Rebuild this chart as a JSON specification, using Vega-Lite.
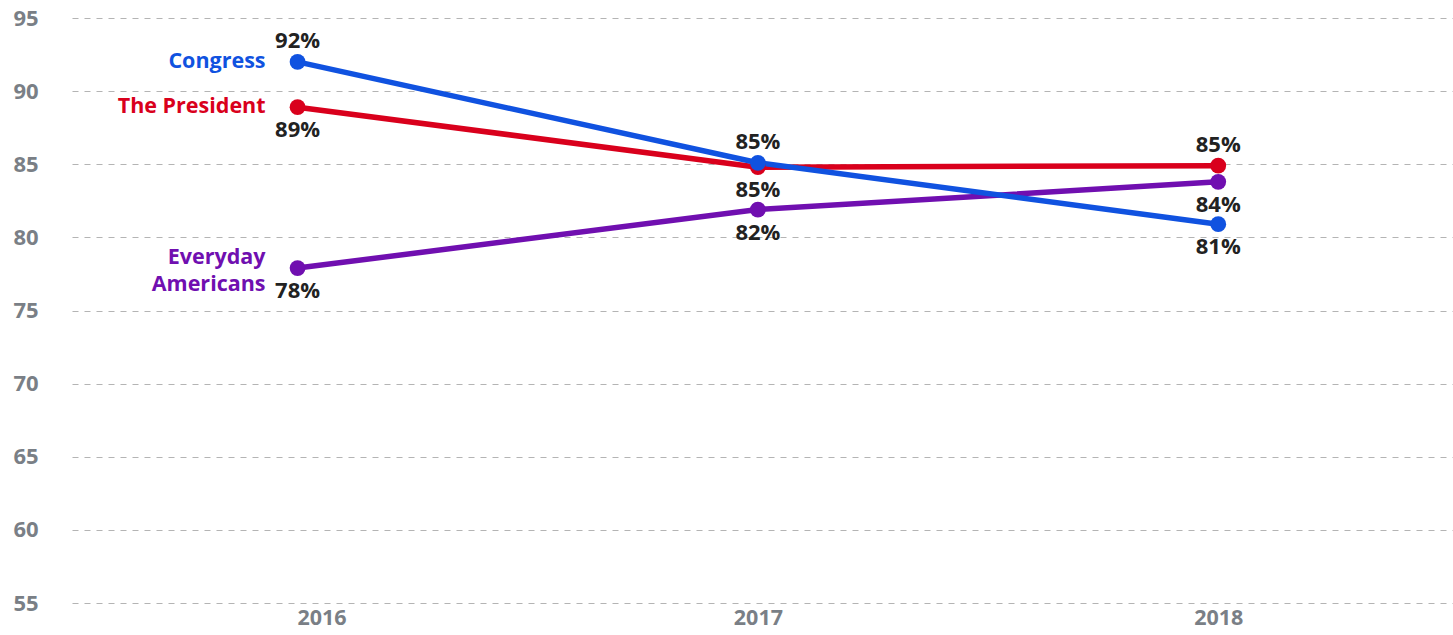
{
  "$schema": "https://vega.github.io/schema/vega-lite/v6.json",
  "width": 1381,
  "height": 585,
  "autosize": {"type": "none"},
  "padding": {"left": 72, "top": 18, "right": 0, "bottom": 32},
  "background": "white",
  "config": {
    "font": "Open Sans",
    "view": {"stroke": null}
  },
  "data": {
    "values": [
      {"series": "Everyday Americans", "year": 2016, "value": 77.9, "label": "78%"},
      {"series": "Everyday Americans", "year": 2017, "value": 81.9, "label": "82%"},
      {"series": "Everyday Americans", "year": 2018, "value": 83.8, "label": "84%"},
      {"series": "The President", "year": 2016, "value": 88.9, "label": "89%"},
      {"series": "The President", "year": 2017, "value": 84.8, "label": "85%"},
      {"series": "The President", "year": 2018, "value": 84.9, "label": "85%"},
      {"series": "Congress", "year": 2016, "value": 92.0, "label": "92%"},
      {"series": "Congress", "year": 2017, "value": 85.1, "label": "85%"},
      {"series": "Congress", "year": 2018, "value": 80.9, "label": "81%"}
    ]
  },
  "encoding": {
    "x": {
      "field": "year",
      "type": "quantitative",
      "scale": {"domain": [2015.51, 2018.51], "nice": false, "zero": false},
      "axis": {
        "title": null,
        "values": [2016, 2017, 2018],
        "format": "d",
        "grid": false,
        "ticks": false,
        "domain": false,
        "labelFont": "Open Sans",
        "labelFontSize": 21.5,
        "labelFontWeight": "bold",
        "labelColor": "#7a7f86",
        "labelPadding": 4,
        "labelOffset": {"condition": {"test": "datum.value === 2016", "value": 24}, "value": 0}
      }
    },
    "y": {
      "field": "value",
      "type": "quantitative",
      "scale": {"domain": [55, 95], "nice": false, "zero": false},
      "axis": {
        "title": null,
        "values": [55, 60, 65, 70, 75, 80, 85, 90, 95],
        "grid": true,
        "gridDash": [6, 6],
        "gridColor": "#b4b4b4",
        "gridWidth": 1.2,
        "ticks": false,
        "domain": false,
        "labelAlign": "left",
        "labelPadding": 59,
        "labelFont": "Open Sans",
        "labelFontSize": 22,
        "labelFontWeight": "bold",
        "labelColor": "#7a7f86"
      }
    },
    "color": {
      "field": "series",
      "type": "nominal",
      "scale": {
        "domain": ["Congress", "The President", "Everyday Americans"],
        "range": ["#1052e0", "#d9001c", "#700fb0"]
      },
      "legend": null
    }
  },
  "layer": [
    {
      "mark": {"type": "line", "strokeWidth": 5.5}
    },
    {
      "mark": {"type": "circle", "size": 250, "opacity": 1}
    },
    {
      "transform": [
        {"filter": "(datum.series === 'Congress' && datum.year <= 2017) || (datum.series === 'The President' && datum.year === 2018)"}
      ],
      "mark": {"type": "text", "dy": -21, "fontSize": 22, "fontWeight": "bold", "baseline": "middle"},
      "encoding": {"text": {"field": "label"}, "color": {"value": "#222222"}}
    },
    {
      "transform": [
        {"filter": "!((datum.series === 'Congress' && datum.year <= 2017) || (datum.series === 'The President' && datum.year === 2018))"}
      ],
      "mark": {"type": "text", "dy": 23, "fontSize": 22, "fontWeight": "bold", "baseline": "middle"},
      "encoding": {"text": {"field": "label"}, "color": {"value": "#222222"}}
    },
    {
      "transform": [
        {"filter": "datum.year === 2016 && datum.series !== 'Everyday Americans'"}
      ],
      "mark": {"type": "text", "dx": -32, "align": "right", "baseline": "middle", "fontSize": 21.5, "fontWeight": "bold"},
      "encoding": {"text": {"field": "series"}}
    },
    {
      "transform": [
        {"filter": "datum.year === 2016 && datum.series === 'Everyday Americans'"}
      ],
      "mark": {"type": "text", "dx": -32, "dy": -10, "align": "right", "baseline": "middle", "fontSize": 21.5, "fontWeight": "bold", "lineBreak": " ", "lineHeight": 27},
      "encoding": {"text": {"field": "series"}}
    }
  ]
}
